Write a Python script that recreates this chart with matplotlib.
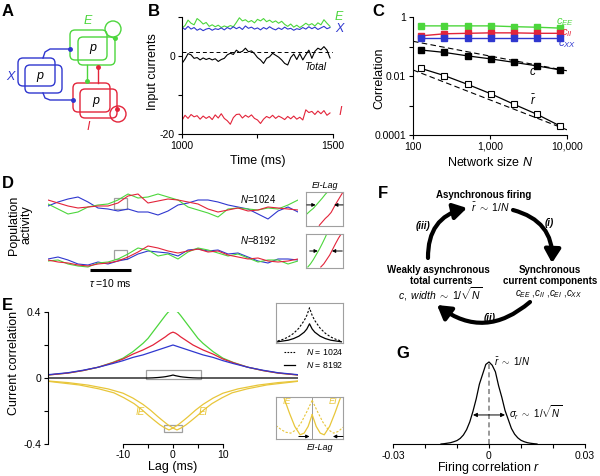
import matplotlib
matplotlib.use("Agg")
import matplotlib.pyplot as plt
import numpy as np
from matplotlib.patches import FancyBboxPatch, Circle, Rectangle, FancyArrowPatch

plt.rcParams["font.family"] = ["Liberation Sans", "DejaVu Sans"]
plt.rcParams["mathtext.fontset"] = "custom"
plt.rcParams["mathtext.rm"] = "Liberation Sans"
plt.rcParams["mathtext.it"] = "Liberation Sans:italic"
plt.rcParams["mathtext.bf"] = "Liberation Sans:bold"
plt.rcParams["axes.linewidth"] = 0.8
plt.rcParams["xtick.major.width"] = 0.8
plt.rcParams["ytick.major.width"] = 0.8

GREEN = "#4cd63c"
RED = "#e3243a"
BLUE = "#2f37cf"
GOLD = "#e8c63a"
BOXGRAY = "#a0a0a0"

W, H = 600, 476

# --- B: input currents (ms, arbitrary units) ---
B_TIME = np.arange(1000, 1495, 10)
B_E = [7.2, 7.8, 9.2, 8.4, 8.0, 9.6, 9.0, 8.2, 8.6, 7.6, 8.0, 7.5, 7.9, 7.3, 7.7,
       7.4, 7.8, 7.5, 8.6, 9.8, 9.0, 9.3, 8.7, 9.1, 8.5, 9.4, 9.0, 9.6, 8.8, 9.2,
       8.6, 9.0, 8.4, 8.9, 8.1, 7.6, 8.2, 7.4, 7.9, 7.3, 7.8, 8.4, 7.9, 8.3, 7.7,
       8.5, 8.0, 9.3, 8.4, 7.6]
B_X = [7.4, 6.8, 7.6, 6.9, 7.3, 6.6, 7.0, 6.5, 6.9, 7.1, 6.6, 7.0, 6.8, 7.2, 6.7,
       7.3, 6.9, 7.5, 7.0, 7.4, 6.8, 7.7, 7.1, 7.4, 6.9, 7.2, 6.7, 7.3, 6.9, 7.5,
       7.0, 6.7, 7.2, 6.8, 7.4, 6.9, 7.1, 6.6, 7.0, 6.8, 7.3, 6.9, 7.5, 7.0, 7.4,
       6.8, 7.2, 7.6, 7.0, 7.3]
B_TOTAL = [-1.9, -0.8, 0.6, 0.3, -0.6, -0.4, -1.0, -0.5, -0.9, -0.6, -1.0, -0.7,
           -1.4, -0.9, -0.6, 0.3, 0.7, 0.4, 1.5, 0.9, 1.2, 2.0, 1.1, 1.3, 0.6, -0.4,
           -1.0, -1.9, -0.6, -0.2, 0.7, 0.2, -0.3, -1.0, -1.9, -2.3, -0.4, 0.5, -0.9,
           0.6, -1.0, 0.3, 1.5, -0.6, 1.2, 2.0, 1.6, 2.4, 1.5, -0.5]
B_I = [-16.5, -15.2, -16.0, -15.0, -15.6, -15.3, -16.2, -15.4, -16.0, -15.5, -16.3,
       -15.1, -15.9, -14.8, -16.0, -16.6, -17.5, -15.8, -15.0, -14.9, -15.9, -15.2,
       -15.7, -15.1, -16.0, -16.4, -17.3, -16.2, -15.5, -15.9, -15.2, -16.0, -15.4,
       -15.8, -16.3, -15.5, -16.1, -15.4, -16.2, -15.7, -16.4, -13.8, -14.5, -14.2,
       -15.0, -14.1, -14.8, -14.0, -15.2, -14.6]
B_MEAN_LEVEL = 1.0

# --- C: correlations vs network size ---
C_N = [128, 256, 512, 1024, 2048, 4096, 8192]
C_EE = [0.50, 0.50, 0.50, 0.50, 0.47, 0.45, 0.42]
C_II = [0.23, 0.27, 0.28, 0.29, 0.29, 0.28, 0.28]
C_XX = [0.20, 0.20, 0.20, 0.20, 0.20, 0.20, 0.20]
C_TOTAL = [0.076, 0.063, 0.048, 0.038, 0.029, 0.022, 0.016]
C_RBAR = [0.018, 0.0103, 0.0052, 0.0025, 0.0011, 0.0005, 0.0002]
C_REF_N = [100, 10000]
C_REF_SQRT = [0.15, 0.015]
C_REF_LIN = [0.016, 0.00015]

# --- D: population activity (ms, arbitrary units) ---
D_TIME = np.linspace(0, 60, 26)
D1024_E = [2, -3, -8, -6, -1, 1, 2, 6, 12, 8, 9, 12, 9, 6, -1, -4, -7, -11, -3, -2,
           -3, -4, -2, -3, 1, 6]
D1024_I = [6, 3, 0, -2, -1, 0, 0, 3, 10, 12, 3, 5, 7, 6, 4, 2, -3, -6, -4, -2, -5,
           -4, -1, -2, -3, -4]
D1024_X = [0, 4, 7, 9, 4, -2, -3, -5, -3, -6, -6, -9, -5, 1, 3, 6, 6, 4, 1, -1, -3,
           -8, -13, -5, -1, -6]
D8192_E = [-5, -4, -8, -10, -11, -7, -6, -3, 2, 8, 6, 0, 2, -3, 4, 8, 6, 3, 0, 2,
           -2, -6, -4, -4, -8, -5]
D8192_I = [-4, -6, -7, -9, -10, -8, -7, -5, -1, 4, 10, 8, 5, 3, 5, 7, 4, 5, 1, -1,
           -3, -2, -5, -6, -5, -3]
D8192_X = [-3, -1, -4, -8, -9, -6, -8, -5, -3, 2, 5, 4, 3, 0, 6, 7, 5, 6, 2, 3, -1,
           -5, -7, -3, -3, -4]
D_ZOOM_T = (15.8, 18.9)
D_ZOOM_Y1024 = (-3, 8)
D_ZOOM_Y8192 = (-3, 6)
D_TAU = (10, 20)
# zoomed rise, relative units inside insets
DZ1_GX = [0.03, 0.12, 0.2, 0.28, 0.36, 0.44, 0.52, 0.58]
DZ1_GY = [0.36, 0.45, 0.52, 0.62, 0.72, 0.82, 0.93, 1.0]
DZ1_RX = [0.36, 0.44, 0.52, 0.6, 0.68, 0.74, 0.8, 0.9, 1.0]
DZ1_RY = [0.02, 0.12, 0.22, 0.3, 0.4, 0.52, 0.64, 0.82, 1.0]
DZ2_GX = [0.05, 0.12, 0.2, 0.28, 0.36, 0.44, 0.52, 0.56]
DZ2_GY = [0.03, 0.12, 0.25, 0.4, 0.55, 0.72, 0.9, 1.0]
DZ2_RX = [0.4, 0.48, 0.56, 0.64, 0.72, 0.8, 0.88, 0.95]
DZ2_RY = [0.03, 0.12, 0.25, 0.38, 0.55, 0.72, 0.88, 1.0]

# --- E: current cross-correlations vs lag (ms) ---
E_LAG = [-25, -21, -18, -15, -12, -10, -8, -6, -5, -4, -3, -2, -1.5, -1, -0.5, 0,
         0.5, 1, 1.5, 2, 3, 4, 5, 6, 8, 10, 12, 15, 18, 21, 25]
E_EE = [0.018, 0.03, 0.045, 0.065, 0.095, 0.12, 0.16, 0.21, 0.24, 0.28, 0.32, 0.36,
        0.38, 0.398, 0.41, 0.415, 0.41, 0.398, 0.38, 0.36, 0.32, 0.28, 0.24, 0.21,
        0.16, 0.12, 0.095, 0.065, 0.045, 0.03, 0.018]
E_II = [0.018, 0.03, 0.045, 0.065, 0.093, 0.115, 0.145, 0.17, 0.185, 0.20, 0.22,
        0.24, 0.25, 0.262, 0.272, 0.278, 0.272, 0.262, 0.25, 0.24, 0.22, 0.20, 0.185,
        0.17, 0.145, 0.115, 0.093, 0.065, 0.045, 0.03, 0.018]
E_XX = [0.02, 0.032, 0.047, 0.065, 0.088, 0.105, 0.125, 0.14, 0.15, 0.16, 0.17,
        0.18, 0.185, 0.19, 0.195, 0.20, 0.195, 0.19, 0.185, 0.18, 0.17, 0.16, 0.15,
        0.14, 0.125, 0.105, 0.088, 0.065, 0.047, 0.032, 0.02]
E_TOT = [0, 0, 0, 0, 0, 0, 0, 0, 0, 0.001, 0.003, 0.006, 0.008, 0.011, 0.014, 0.018,
         0.014, 0.011, 0.008, 0.006, 0.003, 0.001, 0, 0, 0, 0, 0, 0, 0, 0, 0]
E_EI_LAG = [-25, -21, -17, -13, -10, -8, -6, -4.5, -3, -2, -1, 0, 0.8, 1.6, 2.6, 3.6,
            4.8, 6.3, 7.8, 9.8, 11.8, 14.8, 18.8, 22.8, 25]
E_EI = [-0.018, -0.028, -0.043, -0.066, -0.092, -0.122, -0.16, -0.195, -0.235, -0.26,
        -0.284, -0.303, -0.315, -0.303, -0.284, -0.26, -0.23, -0.19, -0.155, -0.12,
        -0.09, -0.066, -0.042, -0.028, -0.02]
E_IE_LAG = [-25, -22.8, -18.8, -14.8, -11.8, -9.8, -7.8, -6.3, -4.8, -3.6, -2.6, -1.6,
            -0.8, 0, 1, 2, 3, 4.5, 6, 8, 10, 13, 17, 21, 25]
E_IE = [-0.02, -0.028, -0.042, -0.066, -0.09, -0.12, -0.155, -0.19, -0.23, -0.26,
        -0.284, -0.303, -0.315, -0.303, -0.284, -0.26, -0.235, -0.195, -0.16, -0.122,
        -0.092, -0.066, -0.043, -0.028, -0.018]
E_BOX_TOT = (-5.5, 5.5, -0.008, 0.047)
E_BOX_EI = (-1.8, 1.8, -0.326, -0.287)
# zoom of the total-current peak
EZ_LAG = [-6, -5, -4, -3, -2, -1, -0.5, 0, 0.5, 1, 2, 3, 4, 5, 6]
EZ_1024 = [0.05, 0.09, 0.15, 0.24, 0.37, 0.56, 0.69, 0.88, 0.69, 0.56, 0.37, 0.24,
           0.15, 0.09, 0.05]
EZ_8192 = [0.03, 0.05, 0.07, 0.11, 0.17, 0.27, 0.35, 0.48, 0.35, 0.27, 0.17, 0.11,
           0.07, 0.05, 0.03]
# zoom of the EI / IE minima, relative units
EZB_S_LX = [0.11, 0.2, 0.28, 0.36, 0.42, 0.48, 0.54]
EZB_S_LY = [1.02, 0.62, 0.3, 0.1, 0.14, 0.3, 0.58]
EZB_S_RX = [0.54, 0.6, 0.66, 0.72, 0.8, 0.88, 0.97]
EZB_S_RY = [0.58, 0.3, 0.14, 0.1, 0.3, 0.62, 1.02]
EZB_D_LX = [0.0, 0.08, 0.15, 0.22, 0.3, 0.38, 0.46, 0.54]
EZB_D_LY = [0.32, 0.22, 0.16, 0.14, 0.22, 0.4, 0.65, 0.92]
EZB_D_RX = [0.54, 0.62, 0.7, 0.78, 0.86, 0.93, 1.0]
EZB_D_RY = [0.92, 0.65, 0.4, 0.22, 0.14, 0.18, 0.28]

# --- G: distribution of firing correlations ---
G_R = np.linspace(-0.015, 0.015, 31)
G_HIST = [0.0, 0.004, 0.01, 0.016, 0.028, 0.042, 0.068, 0.11, 0.175, 0.27, 0.40,
          0.55, 0.73, 0.85, 0.97, 1.0, 0.96, 0.88, 0.71, 0.57, 0.41, 0.30, 0.19,
          0.12, 0.075, 0.045, 0.028, 0.016, 0.009, 0.004, 0.0]
G_SIGMA = 0.005
G_SIGMA_LEVEL = 0.354


fig = plt.figure(figsize=(W / 100, H / 100), dpi=100)


def px_axes(x0, y0, x1, y1, **kw):
    """Axes placed by pixel box (top-left origin)."""
    return fig.add_axes([x0 / W, 1 - y1 / H, (x1 - x0) / W, (y1 - y0) / H], **kw)


def clean(ax):
    ax.spines["top"].set_visible(False)
    ax.spines["right"].set_visible(False)
    ax.tick_params(direction="out", length=3, width=0.8, labelsize=7.5, pad=2)


def inset_box(ax):
    ax.set_xticks([])
    ax.set_yticks([])
    for s in ax.spines.values():
        s.set_color(BOXGRAY)
        s.set_linewidth(0.8)


# ---------------- B ----------------
axb = px_axes(182, 17, 333, 134)
clean(axb)
axb.plot(B_TIME, B_E, color=GREEN, lw=0.8)
axb.plot(B_TIME, B_X, color=BLUE, lw=0.8)
axb.plot(B_TIME, B_TOTAL, color="k", lw=0.8)
axb.plot(B_TIME, B_I, color=RED, lw=0.8)
axb.axhline(B_MEAN_LEVEL, color="k", lw=0.7, ls=(0, (4, 3)))
axb.set_xlim(1000, 1500)
axb.set_ylim(-20, 10)
axb.set_xticks([1000, 1250, 1500], ["1000", "", "1500"])
axb.set_yticks([-20, -10, 0, 10], ["-20", "", "0", ""])

# ---------------- C ----------------
axc = px_axes(413, 17, 567, 135)
clean(axc)
axc.set_xscale("log")
axc.set_yscale("log")
axc.plot(C_REF_N, C_REF_SQRT, color="k", lw=0.8, ls=(0, (5, 3)))
axc.plot(C_REF_N, C_REF_LIN, color="k", lw=0.8, ls=(0, (5, 3)))
for vals, col in [(C_EE, GREEN), (C_II, RED), (C_XX, BLUE)]:
    axc.plot(C_N, vals, color=col, lw=1.0, marker="s", ms=4.5, mec=col, mfc=col)
axc.plot(C_N, C_TOTAL, color="k", lw=0.9, marker="s", ms=4.5, mfc="k")
axc.plot(C_N, C_RBAR, color="k", lw=0.9, marker="s", ms=5, mfc="white", mew=0.8)
axc.set_xlim(100, 10000)
axc.set_ylim(1e-4, 1)
axc.set_xticks([100, 1000, 10000], ["100", "1,000", "10,000"])
axc.set_yticks([1e-4, 1e-3, 1e-2, 1e-1, 1], ["0.0001", "", "0.01", "", "1"])
axc.minorticks_off()

# ---------------- D ----------------
axd1 = px_axes(48, 184, 298, 228)
axd2 = px_axes(48, 234, 298, 278)
for ax, (ge, gi, gx), zy in [(axd1, (D1024_E, D1024_I, D1024_X), D_ZOOM_Y1024),
                             (axd2, (D8192_E, D8192_I, D8192_X), D_ZOOM_Y8192)]:
    ax.plot(D_TIME, gx, color=BLUE, lw=0.8)
    ax.plot(D_TIME, ge, color=GREEN, lw=0.8)
    ax.plot(D_TIME, gi, color=RED, lw=0.8)
    ax.add_patch(Rectangle((D_ZOOM_T[0], zy[0]), D_ZOOM_T[1] - D_ZOOM_T[0],
                           zy[1] - zy[0], fill=False, ec=BOXGRAY, lw=0.9))
    ax.set_xlim(0, 60)
    ax.set_ylim(-22, 22)
    ax.axis("off")
axd2.plot(D_TAU, [-14, -14], color="k", lw=2.2, clip_on=False, solid_capstyle="butt")
axd2.text(np.mean(D_TAU), -27, r"$\tau$ =10 ms", ha="center", va="center", fontsize=7.5)

for box, gx, gy, rx, ry, arr in [
        ((306, 192, 343, 226), DZ1_GX, DZ1_GY, DZ1_RX, DZ1_RY,
         (0.62, 0.02, 0.26, 1.0, 0.76)),
        ((306, 234, 343, 268), DZ2_GX, DZ2_GY, DZ2_RX, DZ2_RY,
         (0.5, 0.1, 0.32, 0.98, 0.7))]:
    axi = px_axes(*box)
    inset_box(axi)
    axi.plot(gx, gy, color=GREEN, lw=0.8)
    axi.plot(rx, ry, color=RED, lw=0.8)
    yl, a0, a1, b0, b1 = arr
    for s, e in [(a0, a1), (b0, b1)]:
        axi.annotate("", xy=(e, yl), xytext=(s, yl),
                     arrowprops=dict(arrowstyle="-|>", color="k", lw=0.7,
                                     mutation_scale=5, shrinkA=0, shrinkB=0))
    axi.set_xlim(0, 1)
    axi.set_ylim(0, 1)

# ---------------- E ----------------
axe = px_axes(48, 312, 298, 444)
clean(axe)
axe.plot(E_LAG, E_EE, color=GREEN, lw=0.9)
axe.plot(E_LAG, E_II, color=RED, lw=0.9)
axe.plot(E_LAG, E_XX, color=BLUE, lw=0.9)
axe.plot(E_LAG, E_TOT, color="k", lw=0.9)
axe.plot(E_IE_LAG, E_IE, color=GOLD, lw=0.9)
axe.plot(E_EI_LAG, E_EI, color=GOLD, lw=0.9)
for x0, x1, y0, y1 in [E_BOX_TOT, E_BOX_EI]:
    axe.add_patch(Rectangle((x0, y0), x1 - x0, y1 - y0, fill=False, ec=BOXGRAY, lw=0.9))
axe.set_xlim(-25, 25)
axe.set_ylim(-0.4, 0.4)
axe.spines["bottom"].set_bounds(-10, 10)
axe.set_xticks([-10, -5, 0, 5, 10], ["-10", "", "0", "", "10"])
axe.set_yticks([-0.4, -0.2, 0, 0.2, 0.4], ["-0.4", "", "0", "", "0.4"])
axe.tick_params(axis="x", pad=1)

axe1 = px_axes(276, 303, 343, 343)
inset_box(axe1)
axe1.plot(EZ_LAG, EZ_1024, color="k", lw=0.8, ls=(0, (2, 1.5)))
axe1.plot(EZ_LAG, EZ_8192, color="k", lw=0.9)
axe1.set_xlim(-6.3, 6.3)
axe1.set_ylim(0, 1)

axe2 = px_axes(276, 397, 343, 439)
inset_box(axe2)
axe2.axvline(0.54, color="#888888", lw=0.6)
axe2.plot(EZB_D_LX, EZB_D_LY, color=GOLD, lw=0.8, ls=(0, (2, 1.5)))
axe2.plot(EZB_D_RX, EZB_D_RY, color=GOLD, lw=0.8, ls=(0, (2, 1.5)))
axe2.plot(EZB_S_LX, EZB_S_LY, color=GOLD, lw=0.9)
axe2.plot(EZB_S_RX, EZB_S_RY, color=GOLD, lw=0.9)
for s, e in [(0.34, 0.5), (1.0, 0.85)]:
    axe2.annotate("", xy=(e, 0.06), xytext=(s, 0.06),
                  arrowprops=dict(arrowstyle="-|>", color="k", lw=0.7,
                                  mutation_scale=5, shrinkA=0, shrinkB=0))
axe2.set_xlim(0, 1)
axe2.set_ylim(0, 1)

# ---------------- G ----------------
axg = px_axes(393, 355, 585, 444)
clean(axg)
axg.spines["left"].set_visible(False)
axg.plot(G_R, G_HIST, color="k", lw=0.9)
axg.plot([0, 0], [0, max(G_HIST)], color="#888888", lw=1.2, ls=(0, (3, 2)))
axg.annotate("", xy=(G_SIGMA, G_SIGMA_LEVEL), xytext=(-G_SIGMA, G_SIGMA_LEVEL),
             arrowprops=dict(arrowstyle="<|-|>", color="k", lw=0.7,
                             mutation_scale=6, shrinkA=0, shrinkB=0))
axg.text(0.0015, 1.0, r"$\bar{r}\ \sim\ 1/N$", fontsize=7, va="center")
axg.text(0.0062, G_SIGMA_LEVEL + 0.03, r"$\sigma_r\ \sim\ 1/\sqrt{N}$", fontsize=7,
         va="center")
axg.set_xlim(-0.03, 0.03)
axg.set_ylim(0, 1.085)
axg.set_yticks([])
axg.set_xticks([-0.03, -0.02, -0.01, 0, 0.01, 0.02, 0.03],
               ["-0.03", "", "", "0", "", "", "0.03"])

# ---------------- overlay: diagram, labels, cycle ----------------
ov = fig.add_axes([0, 0, 1, 1], zorder=10)
ov.set_xlim(0, W)
ov.set_ylim(H, 0)
ov.axis("off")


def rbox(x0, y0, x1, y1, col):
    ov.add_patch(FancyBboxPatch((x0, y0), x1 - x0, y1 - y0,
                                boxstyle="round,pad=0,rounding_size=5",
                                fill=False, ec=col, lw=1.0))


# A: network sketch
rbox(70, 30, 107, 60, GREEN)
rbox(78, 37, 115, 65, GREEN)
ov.add_patch(Circle((113, 29), 8, fill=False, ec=GREEN, lw=1.0))
ov.plot(115, 38, "o", color=GREEN, ms=2.5)
rbox(18, 58, 55, 86, BLUE)
rbox(25, 65, 62, 93, BLUE)
rbox(73, 83, 110, 112, RED)
rbox(80, 89, 117, 118, RED)
ov.add_patch(Circle((118, 114), 8, fill=False, ec=RED, lw=1.0))
ov.plot(117, 109, "o", color=RED, ms=2.5)
ov.plot([43, 45, 50, 70], [58, 52, 49, 49], color=BLUE, lw=1.0)
ov.plot(70, 49, "o", color=BLUE, ms=2.5)
ov.plot([43, 45, 50, 73], [93, 98, 100, 100], color=BLUE, lw=1.0)
ov.plot(73, 100, "o", color=BLUE, ms=2.5)
ov.plot([87, 87], [65, 81], color=GREEN, lw=1.0)
ov.plot(87, 81, "o", color=GREEN, ms=2.5)
ov.plot([98, 98], [83, 67], color=RED, lw=1.0)
ov.plot(98, 67, "o", color=RED, ms=2.5)
for x, y in [(93, 48), (40, 76), (96, 101)]:
    ov.text(x, y, "p", style="italic", fontsize=9, ha="center", va="center")
ov.text(88, 21, "E", color=GREEN, style="italic", fontsize=9, ha="center", va="center")
ov.text(10, 77, "X", color=BLUE, style="italic", fontsize=9, ha="center", va="center")
ov.text(88, 127, "I", color=RED, style="italic", fontsize=9, ha="center", va="center")

# panel letters
for lab, x, y in [("A", 2, 12), ("B", 148, 12), ("C", 372, 12), ("D", 2, 183),
                  ("E", 2, 305), ("F", 378, 193), ("G", 396, 353)]:
    ov.text(x, y, lab, fontsize=12, fontweight="bold", ha="left", va="center")

# axis labels
ov.text(153, 72, "Input currents", rotation=90, fontsize=9, ha="center", va="center")
ov.text(258, 161, "Time (ms)", fontsize=9, ha="center", va="center")
ov.text(379, 78, "Correlation", rotation=90, fontsize=9, ha="center", va="center")
ov.text(490, 162, r"Network size $N$", fontsize=9, ha="center", va="center")
ov.text(20, 225, "Population\nactivity", rotation=90, fontsize=9, ha="center",
        va="center", linespacing=1.1)
ov.text(14, 363, "Current correlation", rotation=90, fontsize=9, ha="center",
        va="center")
ov.text(173, 467, "Lag (ms)", fontsize=9, ha="center", va="center")
ov.text(489, 468, r"Firing correlation $r$", fontsize=9, ha="center", va="center")

# B annotations
ov.text(339, 17, "E", color=GREEN, style="italic", fontsize=9, ha="center", va="center")
ov.text(339, 29, "X", color=BLUE, style="italic", fontsize=9, ha="center", va="center")
ov.text(315, 67, "Total", style="italic", fontsize=7.5, ha="center", va="center")
ov.text(340, 112, "I", color=RED, style="italic", fontsize=9, ha="center", va="center")

# C annotations
ov.text(565, 22, r"$c_{EE}$", color=GREEN, fontsize=8, ha="center", va="center")
ov.text(567, 33, r"$c_{II}$", color=RED, fontsize=8, ha="center", va="center")
ov.text(567, 44, r"$c_{XX}$", color=BLUE, fontsize=8, ha="center", va="center")
ov.text(533, 72, r"$c$", fontsize=8.5, ha="center", va="center")
ov.text(533, 101, r"$\bar{r}$", fontsize=8.5, ha="center", va="center")

# D annotations
ov.text(258, 199, r"$N$=1024", fontsize=7, ha="center", va="center")
ov.text(258, 240, r"$N$=8192", fontsize=7, ha="center", va="center")
ov.text(325, 186, "EI-Lag", style="italic", fontsize=6.5, ha="center", va="center")

# E annotations
ov.text(140, 412, "IE", color=GOLD, style="italic", fontsize=7, ha="center", va="center")
ov.text(203, 412, "EI", color=GOLD, style="italic", fontsize=7, ha="center", va="center")
ov.plot([284, 295], [352, 352], color="k", lw=0.8, ls=(0, (1.5, 1.2)))
ov.plot([284, 295], [365, 365], color="k", lw=0.9)
ov.text(343, 352, r"$N$ = 1024", fontsize=6.3, ha="right", va="center")
ov.text(343, 365, r"$N$ = 8192", fontsize=6.3, ha="right", va="center")
ov.text(287, 401, "IE", color=GOLD, style="italic", fontsize=6.5, ha="center", va="center")
ov.text(333, 401, "EI", color=GOLD, style="italic", fontsize=6.5, ha="center", va="center")
ov.text(320, 447, "EI-Lag", style="italic", fontsize=6.5, ha="center", va="center")

# F: self-consistency cycle
ov.text(484, 195, "Asynchronous firing", fontsize=7, fontweight="bold",
        ha="center", va="center")
ov.text(490, 207, r"$\bar{r}\ \sim\ 1/N$", fontsize=7.5, ha="center", va="center")
ov.text(550, 270, "Synchronous", fontsize=7, fontweight="bold", ha="center", va="center")
ov.text(550, 281, "current components", fontsize=7, fontweight="bold",
        ha="center", va="center")
ov.text(549, 294, r"$c_{EE}$ ,$c_{II}$ ,$c_{EI}$ ,$c_{XX}$", fontsize=7,
        ha="center", va="center")
ov.text(438, 270, "Weakly asynchronous", fontsize=7, fontweight="bold",
        ha="center", va="center")
ov.text(441, 281, "total currents", fontsize=7, fontweight="bold", ha="center",
        va="center")
ov.text(440, 294, r"$c,\ width\ \sim\ 1/\sqrt{N}$", fontsize=7.5, ha="center",
        va="center")
ov.text(549, 223, "(i)", fontsize=7, style="italic", fontweight="bold",
        ha="center", va="center")
ov.text(490, 318, "(ii)", fontsize=7, style="italic", fontweight="bold",
        ha="center", va="center")
ov.text(423, 226, "(iii)", fontsize=7, style="italic", fontweight="bold",
        ha="center", va="center")
for start, end in [((513, 210), (552, 263)), ((530, 302), (437, 305)),
                   ((428, 258), (467, 208))]:
    ov.add_patch(FancyArrowPatch(start, end, connectionstyle="arc3,rad=-0.4",
                                 arrowstyle="-|>,head_length=0.5,head_width=0.3",
                                 mutation_scale=16, lw=3, color="k",
                                 shrinkA=0, shrinkB=0))

fig.savefig("out.png", dpi=100)
